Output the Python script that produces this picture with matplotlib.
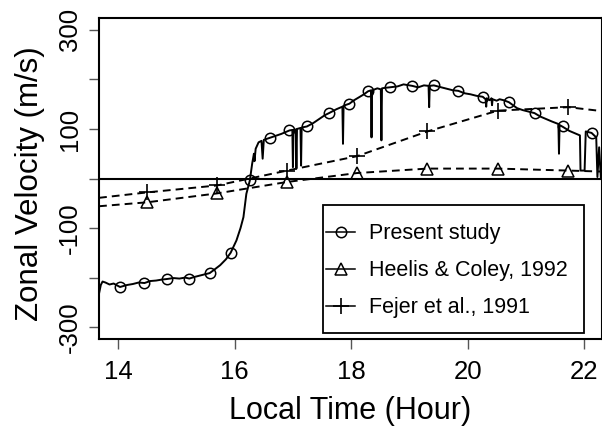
import matplotlib
matplotlib.use("Agg")
import matplotlib.pyplot as plt
from matplotlib.lines import Line2D
from matplotlib.patches import Rectangle

plt.rcParams["font.family"] = ["Liberation Sans", "DejaVu Sans"]

# ── Data ──────────────────────────────────────────────────────────────────────
present_t = [13.67, 13.70, 13.73, 13.78, 13.85, 13.92, 14.03, 14.15, 14.25, 14.35,
             14.45, 14.55, 14.65, 14.75, 14.83, 14.95, 15.05, 15.15, 15.22, 15.30,
             15.40, 15.50, 15.57, 15.65, 15.75, 15.85, 15.93, 16.03, 16.10, 16.15,
             16.20, 16.26, 16.30, 16.33, 16.34, 16.36, 16.41, 16.46, 16.48, 16.50,
             16.60, 16.70, 16.80, 16.94, 16.99, 17.00, 17.01, 17.05, 17.06, 17.07,
             17.13, 17.14, 17.15, 17.24, 17.35, 17.45, 17.55, 17.62, 17.75, 17.85,
             17.86, 17.87, 17.97, 18.05, 18.15, 18.22, 18.29, 18.34, 18.35, 18.36,
             18.45, 18.51, 18.52, 18.53, 18.58, 18.66, 18.80, 18.90, 19.05, 19.15,
             19.25, 19.33, 19.34, 19.35, 19.42, 19.55, 19.65, 19.75, 19.84, 19.95,
             20.05, 20.15, 20.26, 20.31, 20.32, 20.33, 20.38, 20.41, 20.42, 20.43,
             20.50, 20.55, 20.62, 20.71, 20.85, 20.95, 21.05, 21.15, 21.25, 21.35,
             21.45, 21.56, 21.57, 21.58, 21.64, 21.75, 21.85, 21.93, 21.94, 22.01,
             22.03, 22.13, 22.21, 22.23, 22.26, 22.29]
present_v = [-232, -215, -208, -210, -214, -212, -219, -215, -213, -210,
             -211, -207, -206, -204, -203, -201, -202, -200, -202, -199,
             -196, -193, -191, -184, -175, -163, -150, -125, -100, -78,
             -31, -4, 30, 50, 35, 60, 73, 76, 40, 78,
             82, 86, 90, 97, 98, 23, 98, 99, 20, 100,
             102, 26, 103, 105, 112, 120, 128, 132, 140, 145,
             70, 147, 151, 158, 165, 170, 176, 178, 83, 178,
             182, 180, 77, 182, 183, 184, 186, 190, 187, 184,
             188, 187, 144, 187, 188, 184, 181, 178, 177, 172,
             170, 167, 165, 160, 145, 162, 158, 162, 148, 160,
             157, 160, 158, 154, 142, 138, 135, 132, 125, 120,
             115, 110, 50, 108, 104, 96, 91, 87, 16, 16,
             95, 92, 83, 3, 63, 0]

circle_t = [14.03, 14.45, 14.83, 15.22, 15.57, 15.93, 16.26, 16.60, 16.94, 17.24, 17.62,
            17.97, 18.29, 18.66, 19.05, 19.42, 19.84, 20.26, 20.71, 21.15, 21.64, 22.13]
circle_v = [-219, -211, -203, -202, -191, -150, -4, 82, 97, 105, 132,
            151, 176, 184, 187, 188, 177, 165, 154, 132, 105, 91]

model_t = [13.67, 14.50, 15.70, 16.90, 18.10, 19.31, 20.52, 21.73, 22.31]
heelis_v = [-56, -48, -30, -7, 11, 20, 20, 16, 14]
fejer_v = [-39, -28, -14, 16, 45, 95, 137, 144, 136]

labels = ["Present study", "Heelis & Coley, 1992", "Fejer et al., 1991"]
x_ticks = [14, 16, 18, 20, 22]
y_ticks = [-300, -200, -100, 0, 100, 200, 300]
y_tick_labels = ["-300", "", "-100", "", "100", "", "300"]

# ── Plot ──────────────────────────────────────────────────────────────────────
fig = plt.figure(figsize=(6.02, 4.26), dpi=100)
ax = fig.add_axes([99 / 602, 87 / 426, 503 / 602, 321 / 426])

ax.axhline(0, color="black", lw=1.5)
ax.plot(present_t, present_v, color="black", lw=1.4)
ax.plot(circle_t, circle_v, ls="none", marker="o", ms=7.5, mfc="none",
        mec="black", mew=1.1)
ax.plot(model_t, heelis_v, color="black", lw=1.4, ls=(0, (4, 2.6)),
        marker="^", ms=8, mfc="none", mec="black", mew=1.1,
        markevery=slice(1, -1))
ax.plot(model_t, fejer_v, color="black", lw=1.4, ls=(0, (4, 2.6)),
        marker="+", ms=11, mec="black", mew=1.2,
        markevery=slice(1, -1))

ax.set_xlim(13.669, 22.309)
ax.set_ylim(-324, 324)
ax.set_xticks(x_ticks)
ax.set_xticklabels([str(t) for t in x_ticks], fontsize=18.5)
ax.set_yticks(y_ticks)
ax.set_yticklabels(y_tick_labels, fontsize=18.5, rotation=90, va="center")
ax.tick_params(length=7.2, width=1, color="#555555", pad=8)
ax.tick_params(axis="y", pad=4.8)
for s in ax.spines.values():
    s.set_linewidth(1.5)

ax.set_xlabel("Local Time (Hour)", fontsize=22, labelpad=8.5)
ax.set_ylabel("Zonal Velocity (m/s)", fontsize=22.5, labelpad=9.5)
ax.yaxis.label.set_y((339 - 184) / 321)

# legend box drawn separately so its size matches the original
ax.add_patch(Rectangle((0.4456, 0.0196), 0.5179, 0.3978, transform=ax.transAxes,
                       facecolor="white", edgecolor="black", lw=1.3, zorder=4.5))
handles = [
    Line2D([], [], color="black", lw=1.1, marker="o", ms=7.5, mfc="none", mew=1.1),
    Line2D([], [], color="black", lw=1.1, marker="^", ms=8, mfc="none", mew=1.1),
    Line2D([], [], color="black", lw=1.1, marker="+", ms=11, mew=1.2),
]
leg = ax.legend(handles, labels, loc="upper left",
                bbox_to_anchor=(0.452, 0.361), borderaxespad=0, borderpad=0,
                fontsize=15.5, frameon=False, handlelength=1.35,
                handletextpad=0.62, labelspacing=0.75)
leg.set_zorder(5)

plt.savefig("out.png", dpi=100)
